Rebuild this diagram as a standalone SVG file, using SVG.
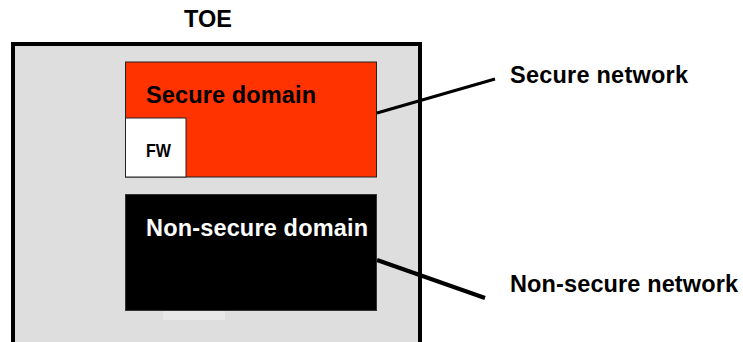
<svg xmlns="http://www.w3.org/2000/svg" width="743" height="342" viewBox="0 0 743 342">
<style>
text{font-family:"Liberation Sans",Arial,sans-serif;font-weight:bold}
.lbl{font-size:23.5px;fill:#000}
.conn{stroke:#000;fill:none}
</style>
<rect width="743" height="342" fill="#fff"/>
<g id="toe">
<rect x="13" y="44" width="407" height="310" fill="#dedede" stroke="#000" stroke-width="4"/>
<rect x="163" y="311" width="62" height="9" fill="#e8e8e8"/>
<text x="184" y="27" class="lbl" textLength="48">TOE</text>
</g>
<g id="secure-domain">
<rect x="125.5" y="62" width="251" height="115" fill="#ff3300" stroke="#222" stroke-width="1"/>
<text x="146" y="103" class="lbl" textLength="170">Secure domain</text>
</g>
<g id="fw">
<rect x="125.5" y="118" width="60.5" height="59" fill="#fff" stroke="#222" stroke-width="1"/>
<text x="146" y="157" font-size="18" fill="#000" textLength="25" lengthAdjust="spacingAndGlyphs">FW</text>
</g>
<g id="non-secure-domain">
<rect x="125.5" y="194.5" width="251" height="116" fill="#000" stroke="#333" stroke-width="1"/>
<text x="146" y="236" class="lbl" style="fill:#fff" textLength="222">Non-secure domain</text>
</g>
<g id="connectors">
<line class="conn" x1="377" y1="113" x2="495" y2="79" stroke-width="3"/>
<line class="conn" x1="377" y1="260" x2="485" y2="298" stroke-width="4"/>
</g>
<g id="secure-network">
<text x="510" y="83" class="lbl" textLength="178">Secure network</text>
</g>
<g id="non-secure-network">
<text x="510" y="292" class="lbl" textLength="228">Non-secure network</text>
</g>
</svg>
